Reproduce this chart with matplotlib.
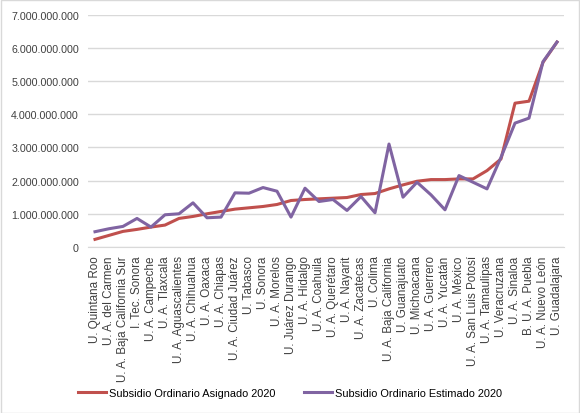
import matplotlib
matplotlib.use('Agg')
import matplotlib.pyplot as plt
from matplotlib.patches import Rectangle
from matplotlib.ticker import FuncFormatter

plt.rcParams['font.family'] = ['Liberation Sans', 'DejaVu Sans']

universidades = [
    'U. Quintana Roo', 'U. A. del Carmen', 'U. A. Baja California Sur', 'I. Tec. Sonora',
    'U. A. Campeche', 'U. A. Tlaxcala', 'U. A. Aguascalientes', 'U. A. Chihuahua',
    'U. A. Oaxaca', 'U. A. Chiapas', 'U. A. Ciudad Juárez', 'U. Tabasco', 'U. Sonora',
    'U. A. Morelos', 'U. Juárez Durango', 'U. A. Hidalgo', 'U. A. Coahuila',
    'U. A. Querétaro', 'U. A. Nayarit', 'U. A. Zacatecas', 'U. Colima',
    'U. A. Baja California', 'U. Guanajuato', 'U. Michoacana', 'U. A. Guerrero',
    'U. A. Yucatán', 'U. A. México', 'U. A. San Luis Potosí', 'U. A. Tamaulipas',
    'U. Veracruzana', 'U. A. Sinaloa', 'B. U. A. Puebla', 'U. A. Nuevo León',
    'U. Guadalajara',
]

# miles de millones
asignado = [0.23, 0.35, 0.47, 0.53, 0.60, 0.66, 0.86, 0.92, 1.00, 1.07, 1.14, 1.18,
            1.22, 1.28, 1.40, 1.43, 1.45, 1.47, 1.49, 1.58, 1.61, 1.75, 1.87, 1.98,
            2.03, 2.03, 2.05, 2.05, 2.30, 2.65, 4.33, 4.39, 5.56, 6.17]
estimado = [0.46, 0.55, 0.62, 0.86, 0.60, 0.97, 1.00, 1.33, 0.88, 0.90, 1.63, 1.62,
            1.79, 1.68, 0.90, 1.77, 1.37, 1.43, 1.10, 1.52, 1.03, 3.10, 1.50, 1.95,
            1.57, 1.12, 2.15, 1.95, 1.75, 2.70, 3.73, 3.88, 5.58, 6.17]

asignado = [v * 1e9 for v in asignado]
estimado = [v * 1e9 for v in estimado]

fig = plt.figure(figsize=(5.8, 4.14), dpi=100)
fig.patches.append(Rectangle((0.001, 0.001), 0.997, 0.997, transform=fig.transFigure,
                             fill=False, edgecolor='#D9D9D9', linewidth=1))
ax = fig.add_axes([88 / 580, 1 - 248 / 414, 476 / 580, (248 - 15.5) / 414])

x = range(len(universidades))
ax.plot(x, asignado, color='#C0504D', linewidth=2.2, label='Subsidio Ordinario Asignado 2020')
ax.plot(x, estimado, color='#8064A2', linewidth=2.2, label='Subsidio Ordinario Estimado 2020')

ax.set_xlim(-0.5, len(universidades) - 0.5)
ax.set_ylim(0, 7e9)
ax.set_yticks([i * 1e9 for i in range(8)])
ax.yaxis.set_major_formatter(FuncFormatter(lambda v, p: f'{int(v):,}'.replace(',', '.')))
ax.set_xticks(list(x))
ax.set_xticklabels(universidades, rotation=90, fontsize=8.4, color='#404040')
ax.tick_params(axis='y', length=0, labelsize=7.7, labelcolor='#404040', pad=6.5)
ax.tick_params(axis='x', length=0, pad=6)

ax.grid(axis='y', color='#D9D9D9', linewidth=1)
ax.set_axisbelow(True)
for s in ['top', 'right', 'left']:
    ax.spines[s].set_visible(False)
ax.spines['bottom'].set_color('#D9D9D9')

fig.legend(loc='center', bbox_to_anchor=(0.5, 1 - 394 / 414), ncol=2, frameon=False,
           fontsize=7.9, handlelength=2.55, handletextpad=0.27, columnspacing=2.6)

fig.savefig('out.png', dpi=100)
